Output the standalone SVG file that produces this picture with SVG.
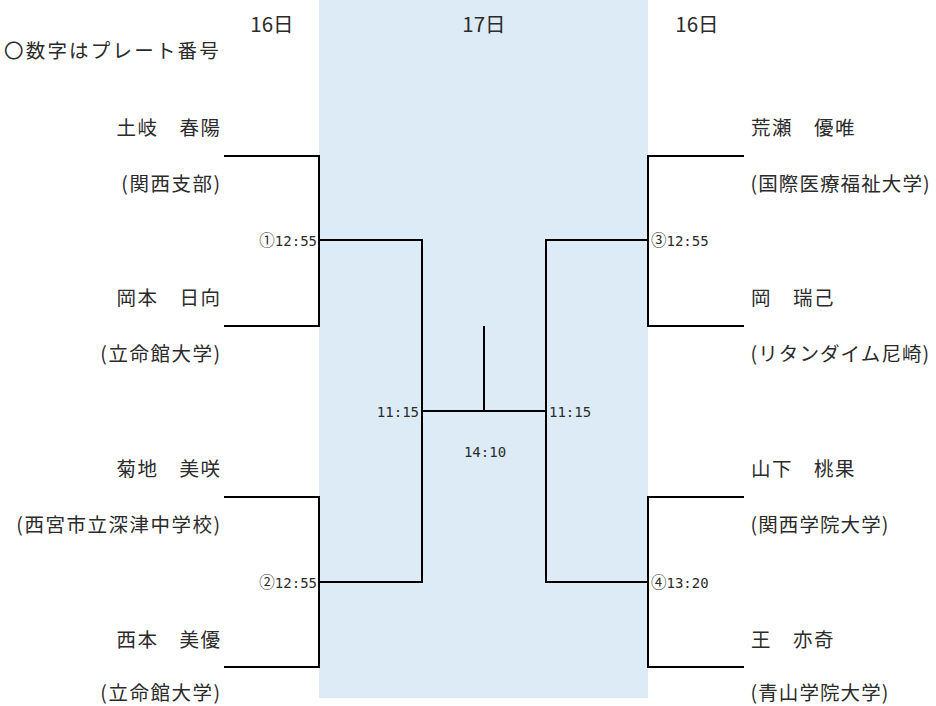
<svg xmlns="http://www.w3.org/2000/svg" width="936" height="706" viewBox="0 0 936 706">
<style>
text{font-family:"Noto Sans CJK JP","Noto Sans",sans-serif;fill:#2b2b2b}
.hd{font-size:20.5px;text-anchor:middle}
.nm{font-size:19.5px;letter-spacing:1.5px}
.af{font-size:19.5px;letter-spacing:1.5px}
.ar{font-size:19.5px;letter-spacing:1.1px}
.l{text-anchor:end}
.tm{font-family:"DejaVu Sans Mono","Liberation Mono",monospace;font-size:14px}
.cn{font-family:"Noto Sans CJK JP",sans-serif;font-size:15.5px}
.ln{stroke:#000;stroke-width:2;fill:none}
</style>
<rect x="319" y="0" width="329" height="698" fill="#DDEBF7"/>
<g id="headers">
<text class="hd" x="272" y="32">16日</text>
<text class="hd" x="484" y="32">17日</text>
<text class="hd" x="697" y="32">16日</text>
<text x="4" y="58" style="font-size:19.5px;letter-spacing:2.2px">〇数字はプレート番号</text>
</g>
<g id="connectors" class="ln">
<path d="M224 156H319V326H224"/>
<path d="M224 497H319V667H224"/>
<path d="M319 240H422V582H319"/>
<path d="M744 156H648V326H744"/>
<path d="M744 497H648V667H744"/>
<path d="M648 240H546V582H648"/>
<path d="M422 411H546"/>
<path d="M484 326V411"/>
</g>
<g id="p1"><text class="nm l" x="221.5" y="135">土岐　春陽</text><text class="af l" x="221.5" y="191">(関西支部)</text></g>
<g id="p2"><text class="nm l" x="221.5" y="305">岡本　日向</text><text class="af l" x="221.5" y="361">(立命館大学)</text></g>
<g id="p3"><text class="nm l" x="221.5" y="476">菊地　美咲</text><text class="af l" x="221.5" y="532">(西宮市立深津中学校)</text></g>
<g id="p4"><text class="nm l" x="221.5" y="647">西本　美優</text><text class="af l" x="221.5" y="700">(立命館大学)</text></g>
<g id="p5"><text class="nm" x="751" y="135">荒瀬　優唯</text><text class="ar" x="750.5" y="191">(国際医療福祉大学)</text></g>
<g id="p6"><text class="nm" x="751" y="305">岡　瑞己</text><text class="ar" x="750.5" y="361">(リタンダイム尼崎)</text></g>
<g id="p7"><text class="nm" x="751" y="476">山下　桃果</text><text class="ar" x="750.5" y="532">(関西学院大学)</text></g>
<g id="p8"><text class="nm" x="751" y="647">王　亦奇</text><text class="ar" x="750.5" y="700">(青山学院大学)</text></g>
<g id="m1"><text class="tm l" x="317" y="246"><tspan class="cn">①</tspan>12:55</text></g>
<g id="m2"><text class="tm l" x="317" y="588"><tspan class="cn">②</tspan>12:55</text></g>
<g id="m3"><text class="tm" x="651" y="246"><tspan class="cn">③</tspan>12:55</text></g>
<g id="m4"><text class="tm" x="651" y="588"><tspan class="cn">④</tspan>13:20</text></g>
<g id="sf1"><text class="tm l" x="419" y="417">11:15</text></g>
<g id="sf2"><text class="tm" x="549" y="417">11:15</text></g>
<g id="fin"><text class="tm" x="485" y="457" text-anchor="middle">14:10</text></g>
</svg>
